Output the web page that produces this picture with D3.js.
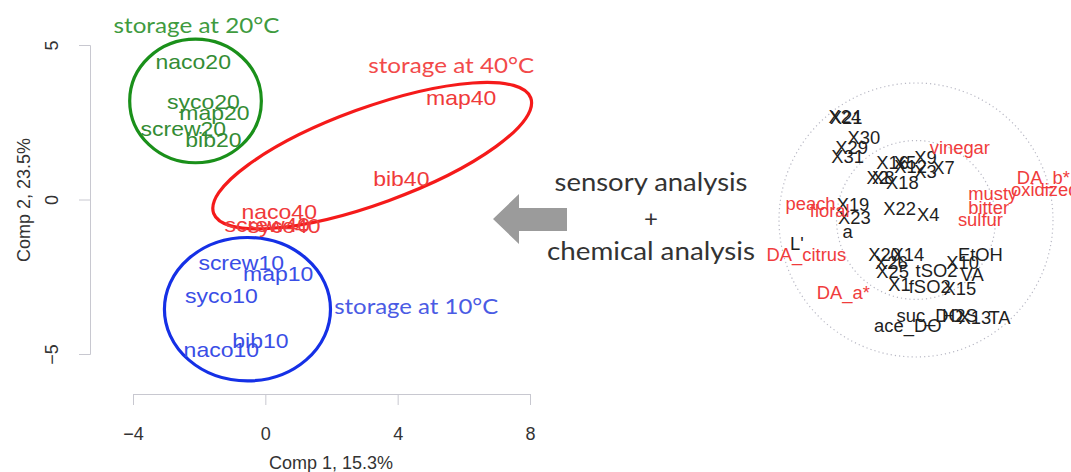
<!DOCTYPE html>
<html><head><meta charset="utf-8">
<script src="https://cdn.jsdelivr.net/npm/d3@7"></script>
<style>body{margin:0;background:#fff} svg{display:block}</style>
</head><body>
<svg id="c" width="1071" height="472"></svg>
<script>
// ---- PCA scores (left plot) ----
const scoreLabels = ["naco20","syco20","map20","screw20","bib20",
                     "map40","bib40","naco40","screw40","syco40",
                     "screw10","map10","syco10","bib10","naco10"];
const scoreX = [-2.18,-1.87,-1.54,-2.48,-1.57, 5.92,4.11,0.42,0.06,0.57, -0.73,0.39,-1.33,-0.15,-1.33];
const scoreY = [4.46,3.16,2.81,2.29,1.94, 3.29,0.65,-0.39,-0.81,-0.87, -2.06,-2.42,-3.13,-4.58,-4.87];
const scoreGroup = [0,0,0,0,0, 1,1,1,1,1, 2,2,2,2,2];
const groupTitles = ["storage at 20°C","storage at 40°C","storage at 10°C"];
const groupTitleX = [-2.08, 5.62, 4.56];
const groupTitleY = [5.4, 4.1, -3.7];
const xTicks = [-4, 0, 4, 8];
const yTicks = [-5, 0, 5];

// ---- correlation circle (right plot) ----
const varLabels = ["X24","X21","X30","X29","X31","X16","X5","X9","X12","X3","X7","X2","X8","X18",
  "X19","X23","a","X22","X4","L'","X20","X14","X26","X25","X1","tSO2","X10","VA","EtOH","fSO2","X15",
  "ace_DO","suc_DO","H2S","X13","TA",
  "vinegar","DA_b*","musty","oxidized","bitter","sulfur","peach","floral","DA_citrus","DA_a*"];
const varX = [-0.52,-0.51,-0.38,-0.47,-0.50,-0.17,-0.08,0.07,-0.04,0.07,0.20,-0.28,-0.24,-0.10,
  -0.46,-0.45,-0.50,-0.12,0.09,-0.87,-0.23,-0.06,-0.18,-0.17,-0.12,0.15,0.34,0.41,0.47,0.10,0.32,
  -0.06,0.10,0.32,0.43,0.61,
  0.32,0.93,0.56,0.94,0.53,0.47,-0.77,-0.63,-0.80,-0.53];
const varY = [0.75,0.745,0.60,0.53,0.46,0.42,0.42,0.45,0.39,0.35,0.38,0.31,0.31,0.27,
  0.11,0.015,-0.09,0.08,0.04,-0.175,-0.255,-0.255,-0.31,-0.38,-0.47,-0.37,-0.31,-0.40,-0.255,-0.49,-0.50,
  -0.77,-0.70,-0.70,-0.715,-0.715,
  0.53,0.31,0.19,0.22,0.09,0.0,0.12,0.07,-0.255,-0.53];
const varType = ["c","c","c","c","c","c","c","c","c","c","c","c","c","c",
  "c","c","c","c","c","c","c","c","c","c","c","c","c","c","c","c","c",
  "c","c","c","c","c",
  "s","s","s","s","s","s","s","s","s","s"];
const circleRadii = [1, 0.58];

// ---- styles ----
const groupLabelColor = ["#348c34","#f03a3a","#3a4ee6"];
const groupLineColor = ["#1a901a","#f51a1a","#1530e6"];
const groupTitleColor = ["#3f9b3f","#f24a4a","#4a5be4"];
const ellipses = [
  {cx:-2.11, cy:3.19, rx:1.99, ry:2.0, angle:0},
  {cx:3.23, cy:1.42, rx:5.1, ry:1.55, angle:-20},
  {cx:-0.54, cy:-3.55, rx:2.51, ry:2.32, angle:0}
];

const svg = d3.select("#c");
const x = d3.scaleLinear().domain([-4, 8]).range([133, 530]);
const y = d3.scaleLinear().domain([-5, 5]).range([354, 45]);
const labFont = "'Liberation Sans', Arial, Helvetica, sans-serif";
const annFont = "Lato, 'Open Sans', sans-serif";

// axes
const gx = svg.append("g").attr("transform","translate(0,394)")
  .call(d3.axisBottom(x).tickValues(xTicks).tickSize(11).tickSizeOuter(11).tickPadding(22)
    .tickFormat(d => d < 0 ? "\u2212" + Math.abs(d) : d));
gx.selectAll("path,line").attr("stroke","#c8c8d0");
gx.selectAll("text").attr("font-family",labFont).attr("font-size",18).attr("fill","#333");

const gy = svg.append("g").attr("transform","translate(90,0)")
  .call(d3.axisLeft(y).tickValues(yTicks).tickSize(11).tickSizeOuter(11)
    .tickFormat(d => d < 0 ? "\u2212" + Math.abs(d) : d));
gy.selectAll("path,line").attr("stroke","#c8c8d0");
gy.selectAll("text").attr("font-family",labFont).attr("font-size",18).attr("fill","#333")
  .attr("transform","rotate(-90)").attr("x",0).attr("y",-38).attr("dy","0.35em")
  .attr("text-anchor","middle");

svg.append("text").attr("x",331).attr("y",469).attr("text-anchor","middle")
  .attr("font-family",labFont).attr("font-size",18).attr("fill","#333").text("Comp 1, 15.3%");
svg.append("text").attr("transform","translate(30,200) rotate(-90)").attr("text-anchor","middle")
  .attr("font-family",labFont).attr("font-size",18).attr("fill","#333").text("Comp 2, 23.5%");

// ellipses
const kx = Math.abs(x(1) - x(0)), ky = Math.abs(y(1) - y(0));
ellipses.forEach((e, i) => {
  svg.append("ellipse")
    .attr("transform", `translate(${x(e.cx)},${y(e.cy)}) rotate(${e.angle})`)
    .attr("rx", e.rx * kx).attr("ry", e.ry * ky)
    .attr("fill","none").attr("stroke", groupLineColor[i]).attr("stroke-width",3.2);
});

// score labels
const scores = scoreLabels.map((l, i) => ({l, x: scoreX[i], y: scoreY[i], g: scoreGroup[i]}));
svg.append("g").selectAll("text").data(scores).join("text")
  .attr("transform", d => `translate(${x(d.x)},${y(d.y)}) scale(1.15,1)`)
  .attr("text-anchor","middle").attr("dy","0.35em")
  .attr("font-family",labFont).attr("font-size",20)
  .attr("fill", d => groupLabelColor[d.g]).text(d => d.l);

// group titles
const titleLen = [166, 166, 164];
groupTitles.forEach((t, i) => {
  svg.append("text").attr("x", x(groupTitleX[i])).attr("y", y(groupTitleY[i]))
    .attr("text-anchor","middle").attr("font-family",annFont).attr("font-size",22)
    .attr("textLength", titleLen[i]).attr("lengthAdjust","spacingAndGlyphs")
    .attr("fill", groupTitleColor[i]).text(t);
});

// arrow
const arrow = [[493,219],[519,194],[519,208],[567,208],[567,231],[519,231],[519,244]];
svg.append("path").attr("d", d3.line()(arrow) + "Z").attr("fill","#9b9b9b");

// middle text
svg.append("text").attr("x",651).attr("y",191).attr("text-anchor","middle")
  .attr("font-family",annFont).attr("font-size",25).attr("fill","#333")
  .attr("textLength",193).attr("lengthAdjust","spacingAndGlyphs").text("sensory analysis");
svg.append("text").attr("x",651).attr("y",227).attr("text-anchor","middle")
  .attr("font-family",annFont).attr("font-size",24).attr("fill","#333").text("+");
svg.append("text").attr("x",651).attr("y",260).attr("text-anchor","middle")
  .attr("font-family",annFont).attr("font-size",25).attr("fill","#333")
  .attr("textLength",208).attr("lengthAdjust","spacingAndGlyphs").text("chemical analysis");

// correlation circle
const bx = d3.scaleLinear().domain([-1, 1]).range([779, 1053]);
const by = d3.scaleLinear().domain([-1, 1]).range([357, 83]);
circleRadii.forEach(r => {
  svg.append("circle").attr("cx", bx(0)).attr("cy", by(0)).attr("r", bx(r) - bx(0))
    .attr("fill","none").attr("stroke","#b8b8c4").attr("stroke-width",1.2)
    .attr("stroke-dasharray","1.2,3");
});
const vars = varLabels.map((l, i) => ({l, x: varX[i], y: varY[i], t: varType[i]}));
svg.append("g").selectAll("text").data(vars).join("text")
  .attr("transform", d => `translate(${bx(d.x)},${by(d.y)}) scale(1.05,1)`)
  .attr("text-anchor","middle").attr("dy","0.35em")
  .attr("font-family",labFont).attr("font-size",17.5)
  .attr("fill", d => d.t === "s" ? "#f03c3c" : "#1e1e1e").text(d => d.l);
</script>
</body></html>
